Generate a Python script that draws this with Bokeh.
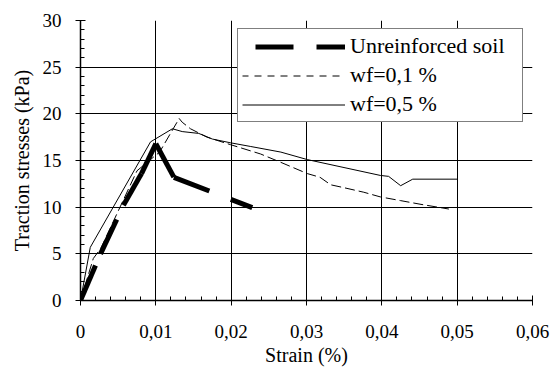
import numpy as np
from bokeh.plotting import figure
from bokeh.models import Range1d, FixedTicker, CustomJSTickFormatter, Legend, LegendItem, Title
from bokeh.embed import file_html
from bokeh.resources import INLINE

# Unreinforced soil
strain_unreinf = [0, 0.00266, 0.0057, 0.0081, 0.0100, 0.0124, 0.0228]
stress_unreinf = [0, 5.0, 10.2, 13.6, 16.8, 13.2, 9.95]

# wf = 0,1 %
strain_wf01 = [0, 0.0017, 0.0027, 0.0075, 0.0105, 0.0131, 0.0135, 0.0146, 0.0168,
               0.0199, 0.0239, 0.0266, 0.0301, 0.0318, 0.0332, 0.0349, 0.0376,
               0.0398, 0.0425, 0.0452, 0.0489]
stress_wf01 = [0, 4.5, 5.6, 13.9, 15.9, 19.5, 19.1, 18.4, 17.5,
               16.7, 15.7, 14.8, 13.6, 13.2, 12.4, 12.1, 11.6,
               11.1, 10.7, 10.3, 9.8]

# wf = 0,5 %
strain_wf05 = [0, 0.0013, 0.0093, 0.0122, 0.0135, 0.0157, 0.0175, 0.0199, 0.0226,
               0.0266, 0.0301, 0.0398, 0.0409, 0.0425, 0.0441, 0.0501]
stress_wf05 = [0, 5.7, 17.0, 18.4, 18.1, 17.9, 17.3, 16.9, 16.5,
               15.9, 15.1, 13.4, 13.3, 12.3, 13.0, 13.0]

series_labels = ["Unreinforced soil", "wf=0,1 %", "wf=0,5 %"]
x_ticks = [0, 0.01, 0.02, 0.03, 0.04, 0.05, 0.06]
y_ticks = [0, 5, 10, 15, 20, 25, 30]
x_title = "Strain (%)"
y_title = "Traction stresses (kPa)"

FONT = "'Liberation Serif', 'Times New Roman', serif"

p = figure(width=553, height=376, output_backend="svg", toolbar_location=None,
           x_range=Range1d(0, 0.06), y_range=Range1d(0, 30),
           min_border_left=80, min_border_right=21, min_border_top=20, min_border_bottom=76)
p.outline_line_color = None
p.background_fill_color = "white"
p.border_fill_color = "white"

p.xaxis.ticker = FixedTicker(ticks=x_ticks, minor_ticks=[i * 0.002 for i in range(31)])
p.yaxis.ticker = FixedTicker(ticks=y_ticks, minor_ticks=list(range(31)))
p.xaxis.formatter = CustomJSTickFormatter(code="return tick == 0 ? '0' : tick.toFixed(2).replace('.', ',');")

for ax in (p.xaxis, p.yaxis):
    ax.axis_line_color = "black"
    ax.axis_line_width = 1.5
    ax.major_tick_line_color = "black"
    ax.minor_tick_line_color = "black"
    ax.major_tick_in = 5
    ax.major_tick_out = 5
    ax.minor_tick_in = 4
    ax.minor_tick_out = 0
    ax.major_label_text_font = FONT
    ax.major_label_text_font_size = "19px"
    ax.major_label_text_color = "black"
p.xaxis.major_label_standoff = 19
p.yaxis.major_label_standoff = 14

# axis titles as Title annotations in the side panels
p.add_layout(Title(text=x_title, align="center", text_font=FONT, text_font_size="20px",
                   text_font_style="normal", text_color="black", standoff=3), "below")
p.add_layout(Title(text=y_title, align="center", text_font=FONT, text_font_size="20px",
                   text_font_style="normal", text_color="black", standoff=14), "left")

p.xgrid.grid_line_color = "black"
p.ygrid.grid_line_color = "black"
p.xgrid.grid_line_width = 1
p.ygrid.grid_line_width = 1

# thick dashed series: dash pattern restarts at every data point (as in the original chart)
p.segment(x0=strain_unreinf[:-1], y0=stress_unreinf[:-1],
          x1=strain_unreinf[1:], y1=stress_unreinf[1:],
          line_color="black", line_width=5, line_dash="38 23", line_cap="butt")
p.line(strain_wf01, stress_wf01, line_color="black", line_width=1, line_dash="10 4")
r3 = p.line(strain_wf05, stress_wf05, line_color="black", line_width=1)

# legend samples (no visible data)
nan = np.array([np.nan])
k1 = p.line(nan, nan, line_color="black", line_width=5, line_dash="38 23", line_dash_offset=48)
k2 = p.line(nan, nan, line_color="black", line_width=1, line_dash="7 6", line_dash_offset=1)

legend = Legend(items=[LegendItem(label=series_labels[0], renderers=[k1]),
                       LegendItem(label=series_labels[1], renderers=[k2]),
                       LegendItem(label=series_labels[2], renderers=[r3])],
                location=(157, 178))
legend.border_line_color = "black"
legend.border_line_width = 1
legend.background_fill_color = "white"
legend.background_fill_alpha = 1
legend.label_text_font = FONT
legend.label_text_font_size = "22px"
legend.label_text_color = "black"
legend.glyph_width = 103
legend.glyph_height = 25
legend.label_height = 25
legend.label_width = 168
legend.label_standoff = 5
legend.spacing = 3
legend.padding = 4
legend.margin = 0
p.add_layout(legend, "center")

open("out.html", "w").write(file_html(p, INLINE))
